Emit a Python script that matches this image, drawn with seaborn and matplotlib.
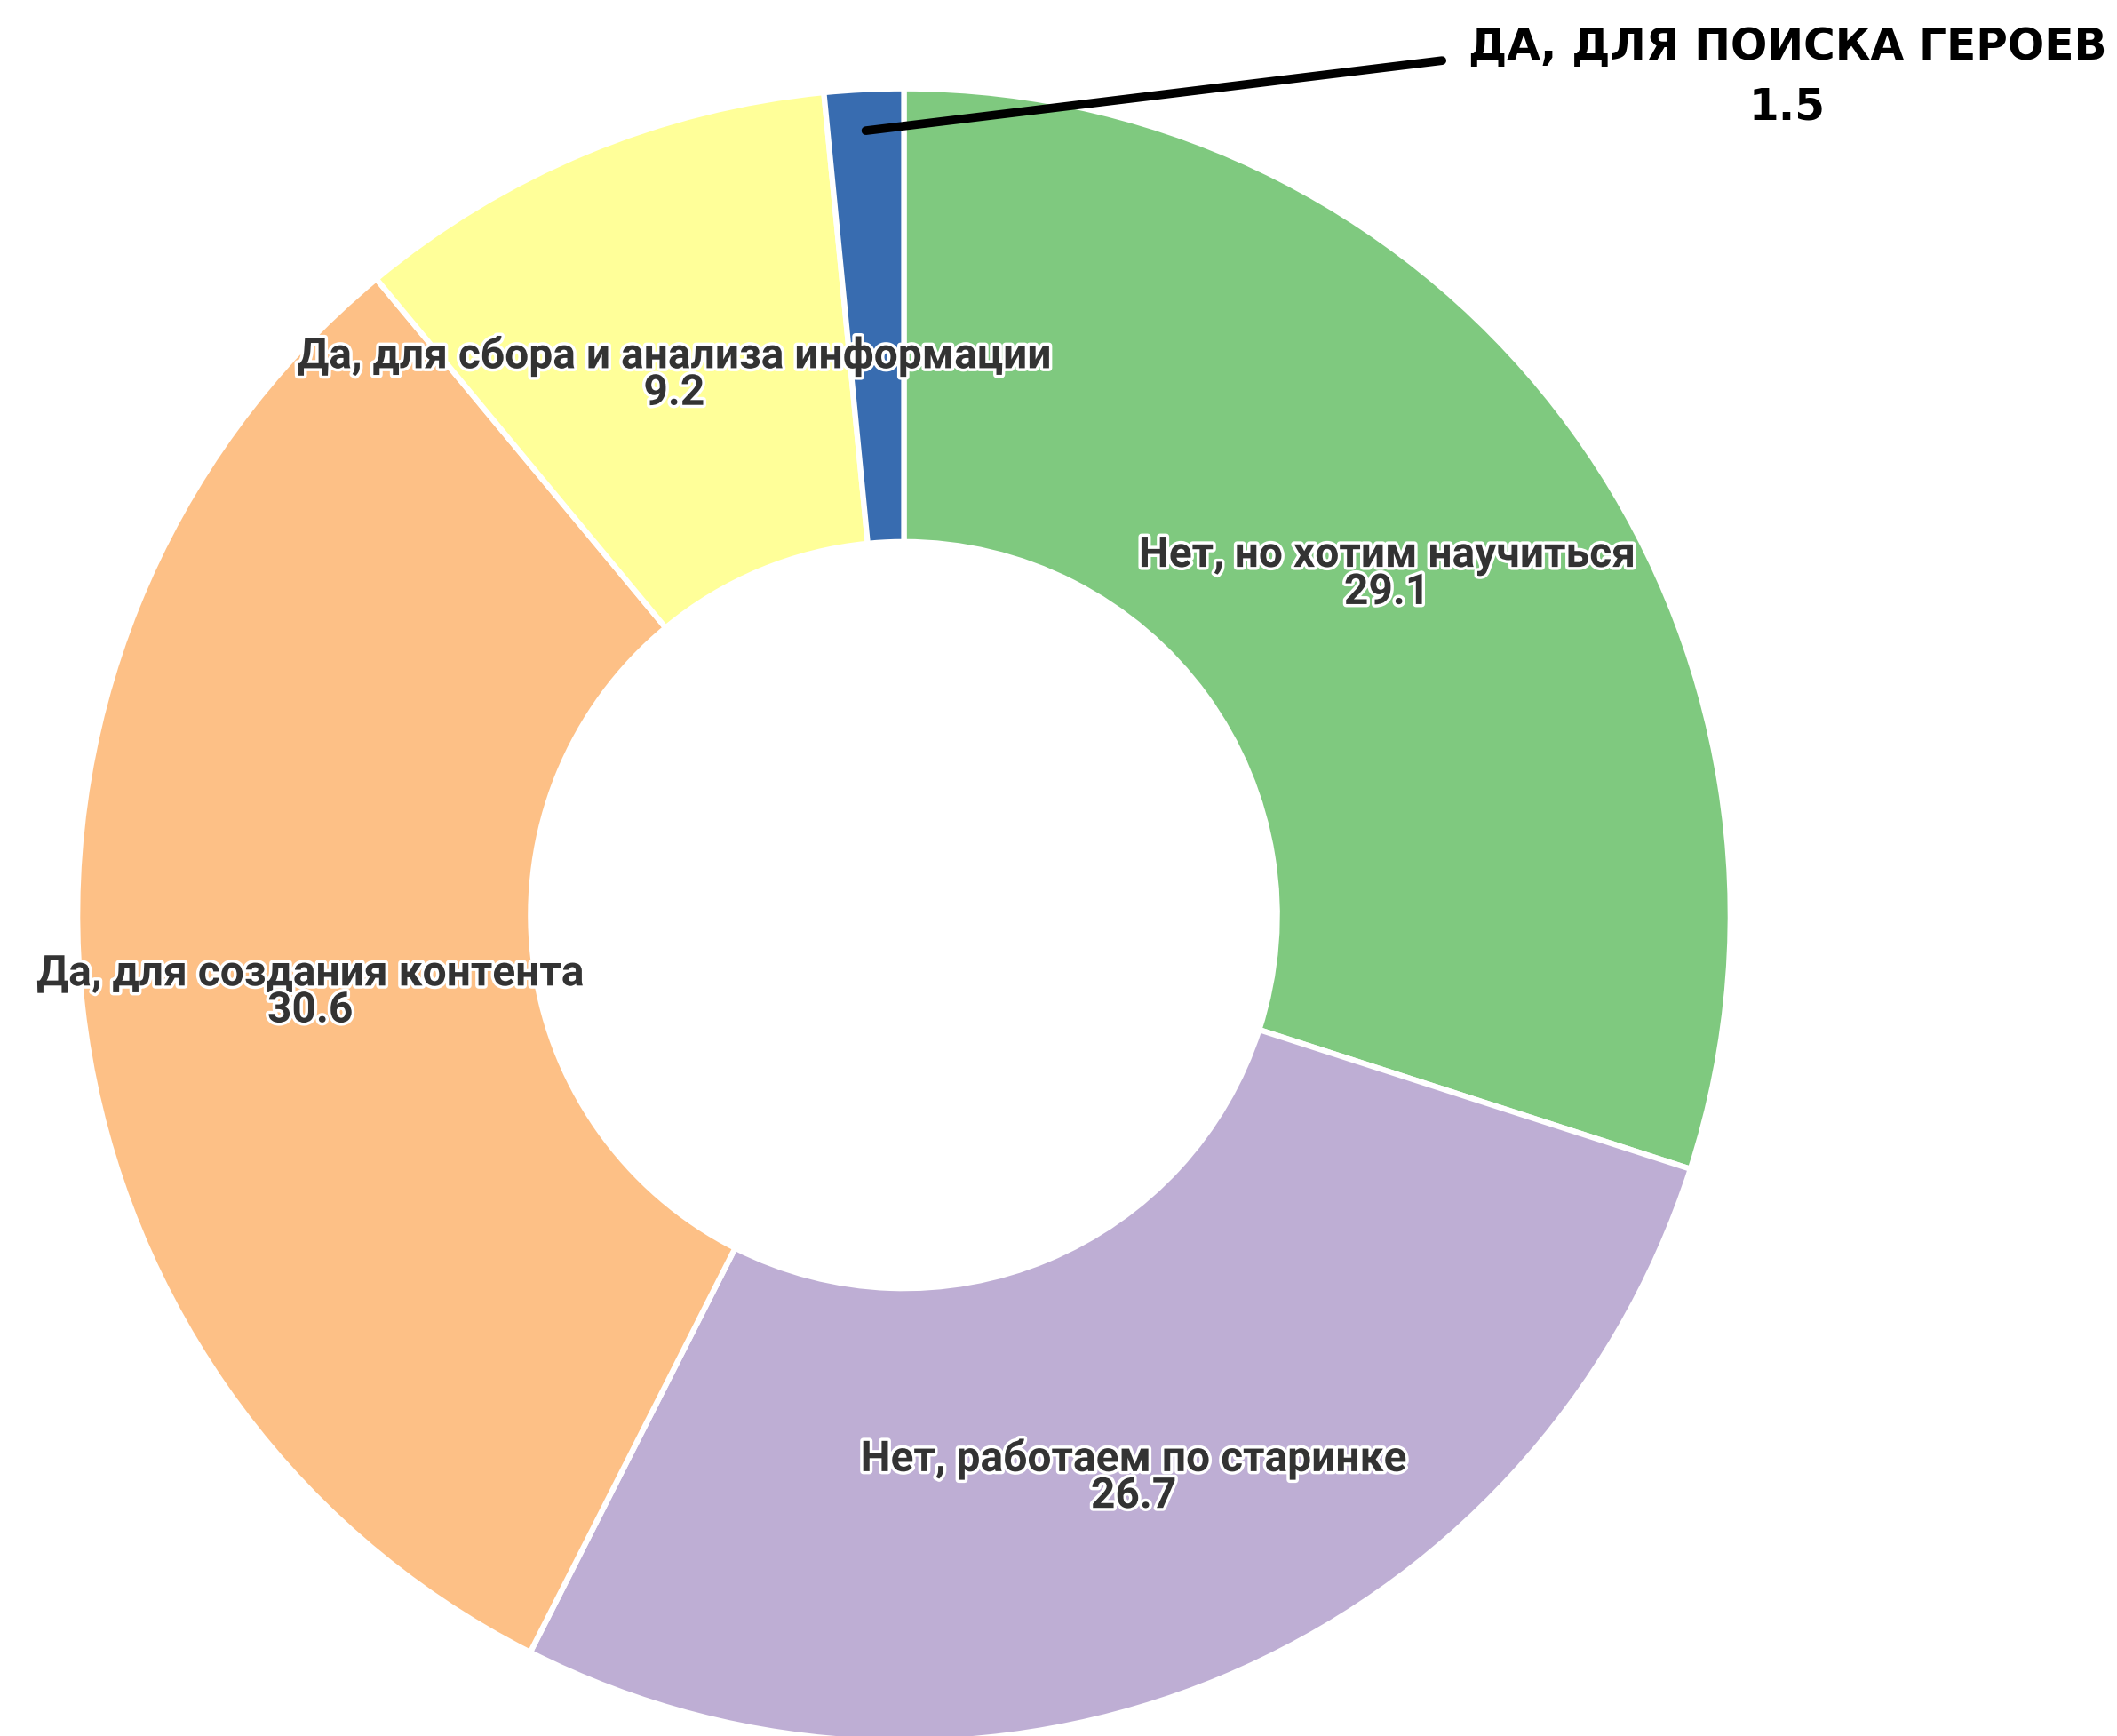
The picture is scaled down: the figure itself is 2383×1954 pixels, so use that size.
import matplotlib
matplotlib.use("Agg")
import matplotlib.pyplot as plt
import matplotlib.patheffects as pe
import numpy as np
import seaborn as sns

# данные опроса (проценты)
labels = [
    "Нет, но хотим научиться",
    "Нет, работаем по старинке",
    "Да, для создания контента",
    "Да, для сбора и анализа информации",
    "Да, для поиска героев",
]
values = [29.1, 26.7, 30.6, 9.2, 1.5]

sns.set_theme(style="white")
plt.rcParams["font.family"] = ["Roboto", "DejaVu Sans"]

colors = sns.color_palette("Accent", len(values))

W, H, DPI = 2383, 1954, 100
fig = plt.figure(figsize=(W / DPI, H / DPI), dpi=DPI)
ax = fig.add_axes([0, 0, 1, 1])

wedges, _ = ax.pie(
    values,
    colors=colors,
    startangle=90,
    counterclock=False,
    radius=1.003,
    wedgeprops=dict(width=0.55, edgecolor="white", linewidth=4.5, joinstyle="round"),
)

# подписи внутри сегментов
r_lab = 0.725
for w, lab, val in zip(wedges[:-1], labels[:-1], values[:-1]):
    ang = np.deg2rad((w.theta1 + w.theta2) / 2)
    ax.text(
        r_lab * np.cos(ang), r_lab * np.sin(ang) - 0.013, f"{lab}\n{val}",
        ha="center", va="center", fontsize=34.5, fontweight="bold",
        color="#333333", linespacing=0.87,
        path_effects=[pe.withStroke(linewidth=5, foreground="white")],
    )

# выноска для маленького сегмента
w = wedges[-1]
ang = np.deg2rad((w.theta1 + w.theta2) / 2)
ax.annotate(
    "", xy=(0.953 * np.cos(ang), 0.953 * np.sin(ang)), xytext=(0.653, 1.037),
    arrowprops=dict(arrowstyle="-", color="black", lw=7, shrinkA=0, shrinkB=0),
)
ax.text(
    1.072, 1.017, f"{labels[-1].upper()}\n{values[-1]}",
    ha="center", va="center", fontsize=35, fontweight="bold",
    color="black", linespacing=1.5, family=["DejaVu Sans"],
)

ax.set_xlim(-1.0970, 1.4722)
ax.set_ylim(-0.9962, 1.1105)
ax.set_aspect("auto")
ax.axis("off")

fig.savefig("out.png", dpi=DPI, facecolor="white")
